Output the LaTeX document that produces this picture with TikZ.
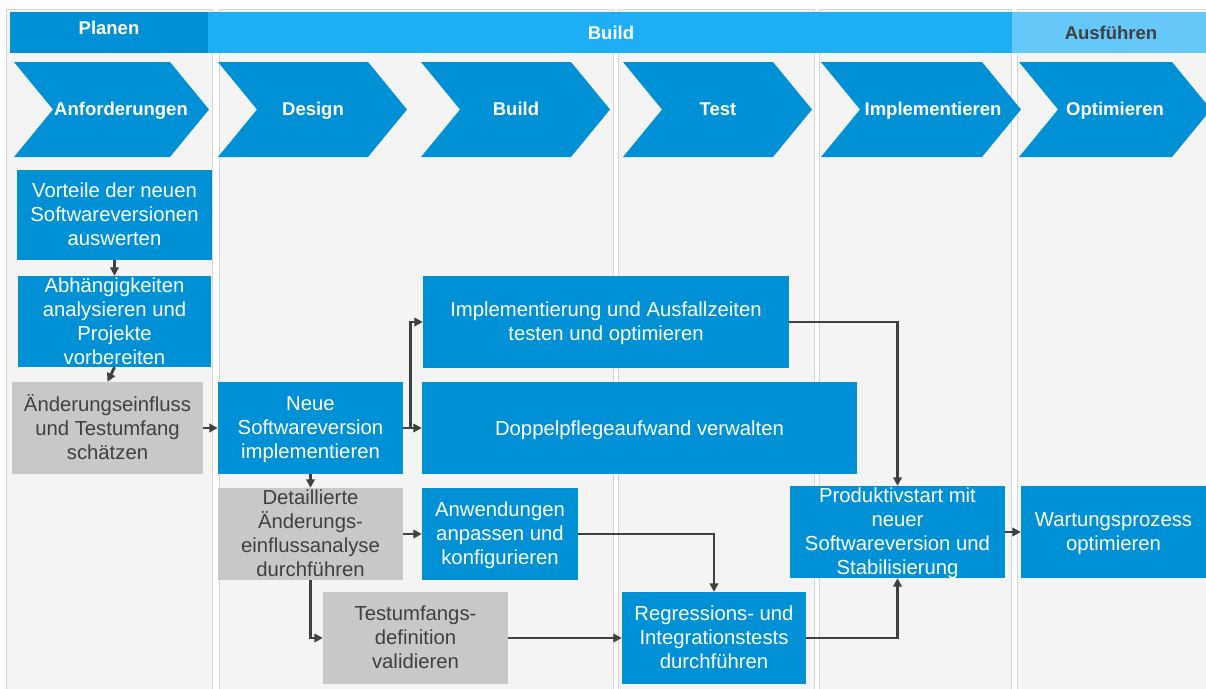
\documentclass[tikz,border=0pt]{standalone}
\usepackage{fontspec}
\setmainfont{Liberation Sans}
\usetikzlibrary{arrows.meta}
\definecolor{sapblue}{RGB}{0,144,213}
\definecolor{buildblue}{RGB}{29,174,243}
\definecolor{runblue}{RGB}{102,199,249}
\definecolor{panelgray}{RGB}{244,244,244}
\definecolor{panelline}{RGB}{212,212,212}
\definecolor{boxgray}{RGB}{200,200,200}
\definecolor{darktext}{RGB}{64,64,64}
\definecolor{arrowc}{RGB}{64,64,64}
\newcommand\mychev[3]{%
  \fill[sapblue] (#1,62) -- (#2-39,62) -- (#2,109.5) -- (#2-39,157) -- (#1,157) -- (#1+39,109.5) -- cycle;}
\begin{document}
\begin{tikzpicture}[x=1pt,y=-1pt,
  panel/.style={fill=panelgray,draw=panelline,line width=1pt},
  hdr/.style={font=\fontsize{18.5}{22}\selectfont\bfseries,text height=13.5pt,text depth=4pt,inner sep=0pt},
  bluebox/.style={fill=sapblue,inner sep=0pt},
  graybox/.style={fill=boxgray,inner sep=0pt},
  txt/.style={font=\fontsize{20.3}{24}\selectfont,align=center,inner sep=0pt,yshift=-3pt,
     execute at begin node=\strut,execute at end node=\strut},
  wtxt/.style={txt,text=white},
  gtxt/.style={txt,text=darktext},
  conn/.style={draw=arrowc,line width=2.8pt,-{Triangle[length=8.5pt,width=8.5pt]}},
]
\useasboundingbox (0,0) rectangle (1206,688);
\fill[white] (0,0) rectangle (1206,688);
% column panels
\filldraw[panel] (6,9) rectangle (212,700);
\filldraw[panel] (219,9) rectangle (613,700);
\filldraw[panel] (618,9) rectangle (814,700);
\filldraw[panel] (819,9) rectangle (1011,700);
\filldraw[panel] (1017,9) rectangle (1215,700);
% phase bars
\fill[sapblue] (10,12) rectangle (208,53);
\fill[buildblue] (208,12) rectangle (1012,53);
\fill[runblue] (1012,12) rectangle (1206,53);
\node[hdr,text=white] (planen) at (109,30) {Planen};
\node[hdr,text=white] (build) at (611,34.5) {Build};
\node[hdr,text=darktext] (ausf) at (1111,35) {Ausführen};
% chevrons
\mychev{14}{209}{}
\mychev{218}{407}{}
\mychev{421}{610}{}
\mychev{623}{812}{}
\mychev{821}{1021}{}
\mychev{1019}{1211}{}
\node[hdr,text=white] (c1) at (121,110.5) {Anforderungen};
\node[hdr,text=white] (c2) at (313,110.5) {Design};
\node[hdr,text=white] (c3) at (516,110.5) {Build};
\node[hdr,text=white] (c4) at (718,110.5) {Test};
\node[hdr,text=white] (c5) at (933,110.5) {Implementieren};
\node[hdr,text=white] (c6) at (1115,110.5) {Optimieren};
% boxes
\node[bluebox,minimum width=195pt,minimum height=90pt] (vort) at (114.5,215) {};
\node[wtxt] (vortT) at (vort) {Vorteile der neuen\\Softwareversionen\\auswerten};
\node[bluebox,minimum width=193pt,minimum height=91pt] (abh) at (114.5,321.5) {};
\node[wtxt] (abhT) at (abh) {Abhängigkeiten\\analysieren und\\Projekte\\vorbereiten};
\node[graybox,minimum width=191pt,minimum height=92pt] (aend) at (107.5,428) {};
\node[gtxt] (aendT) at (aend) {Änderungseinfluss\\und Testumfang\\schätzen};
\node[bluebox,minimum width=185pt,minimum height=92pt] (neue) at (310.5,428) {};
\node[wtxt] (neueT) at (neue) {Neue\\Softwareversion\\implementieren};
\node[bluebox,minimum width=366pt,minimum height=92pt] (impl) at (606,322) {};
\node[wtxt] (implT) at (impl) {Implementierung und Ausfallzeiten\\testen und optimieren};
\node[bluebox,minimum width=435pt,minimum height=92pt] (dopp) at (639.5,428) {};
\node[wtxt] (doppT) at (dopp) {Doppelpflegeaufwand verwalten};
\node[graybox,minimum width=185pt,minimum height=92pt] (detail) at (310.5,534) {};
\node[gtxt] (detailT) at (detail) {Detaillierte\\Änderungs-\\einflussanalyse\\durchführen};
\node[bluebox,minimum width=156pt,minimum height=92pt] (anw) at (500,534) {};
\node[wtxt] (anwT) at (anw) {Anwendungen\\anpassen und\\konfigurieren};
\node[graybox,minimum width=185pt,minimum height=92pt] (testu) at (415.5,638) {};
\node[gtxt] (testuT) at (testu) {Testumfangs-\\definition\\validieren};
\node[bluebox,minimum width=184pt,minimum height=92pt] (regr) at (714,638) {};
\node[wtxt] (regrT) at (regr) {Regressions- und\\Integrationstests\\durchführen};
\node[bluebox,minimum width=215pt,minimum height=92pt] (prod) at (897.5,532) {};
\node[wtxt] (prodT) at (prod) {Produktivstart mit\\neuer\\Softwareversion und\\Stabilisierung};
\node[bluebox,minimum width=185pt,minimum height=92pt] (wart) at (1113.5,532) {};
\node[wtxt] (wartT) at (wart) {Wartungsprozess\\optimieren};
% connectors
\draw[conn] (vort.south) -- (abh.north);
\draw[conn] (abh.south) -- (aend.north);
\draw[conn] (aend.east) -- (neue.west);
\draw[conn] (neue.east) -- (dopp.west);
\draw[conn] (neue.east) -- ++(7,0) |- (impl.west);
\draw[conn] (neue.south) -- (detail.north);
\draw[conn] (detail.east) -- (anw.west);
\draw[conn] (detail.south) |- (testu.west);
\draw[conn] (testu.east) -- (regr.west);
\draw[conn] (anw.east) -| (regr.north);
\draw[conn] (impl.east) -| (prod.north);
\draw[conn] (regr.east) -| (prod.south);
\draw[conn] (prod.east) -- (wart.west);
\end{tikzpicture}
\end{document}
